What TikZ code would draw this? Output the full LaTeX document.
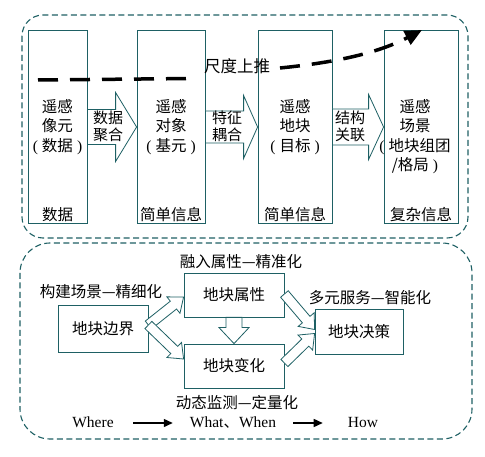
\documentclass[tikz,border=0pt]{standalone}
\usepackage{fontspec}
\setmainfont{Liberation Serif}
\newfontfamily\cjk{Noto Sans CJK SC}
\usetikzlibrary{calc,positioning,arrows.meta}
\definecolor{edge}{RGB}{30,96,100}
\newcommand{\lpar}{{\rmfamily(}\hspace{4pt}}
\newcommand{\rpar}{\hspace{4pt}{\rmfamily)}}
\newcommand{\blkarrow}[5]{%
  \coordinate (ba-h) at ($(#2)!#5!(#1)$);
  \draw[blockarrow] ($(#1)!#3!90:(#2)$) -- ($(ba-h)!#3!90:(#2)$) -- ($(ba-h)!#4!90:(#2)$) -- (#2)
    -- ($(ba-h)!#4!-90:(#2)$) -- ($(ba-h)!#3!-90:(#2)$) -- ($(#1)!#3!-90:(#2)$) -- cycle;}
\tikzset{
  panel/.style={draw=edge, dash pattern=on 6pt off 3.5pt, line width=1.1pt},
  column/.style={draw=edge, line width=0.8pt, minimum height=193pt, inner sep=0pt},
  blockarrow/.style={draw=edge, fill=white, line width=0.8pt, line join=miter},
  cbox/.style={draw=edge, line width=0.8pt, inner sep=0pt, font=\cjk\fontsize{15.5}{19}\selectfont},
  txt/.style={font=\cjk\fontsize{15.5}{19.5}\selectfont, align=center, inner sep=1pt},
  arrowtxt/.style={font=\cjk\fontsize{15}{17}\selectfont, align=center, inner sep=1pt},
  word/.style={font=\fontsize{15.5}{18}\selectfont, inner sep=1pt, text height=11pt, text depth=3pt},
  scalearrow/.style={line width=3.5pt, dash pattern=on 20pt off 12pt, -{Triangle[length=17pt,width=15pt]}},
  flow/.style={line width=1.4pt, -{Triangle[length=9pt,width=8pt]}}
}

\begin{document}
\begin{tikzpicture}[x=1pt, y=-1pt]
    \useasboundingbox (0,0) rectangle (485,457);

    \draw[panel, rounded corners=21pt] (22,15) rectangle (468,238);
    \draw[panel, rounded corners=30pt] (20,243) rectangle (472,439);

    \node[column, minimum width=59pt] (c1) at (57.5,127) {};
    \node[column, minimum width=68pt] (c2) at (171,127) {};
    \node[column, minimum width=74pt] (c3) at (295,127) {};
    \node[column, minimum width=74pt] (c4) at (421,127) {};

    \node[txt] (t1) at (c1) {遥感\\像元\\\lpar 数据\rpar};
    \node[txt] (t2) at (c2) {遥感\\对象\\\lpar 基元\rpar};
    \node[txt] (t3) at (c3) {遥感\\地块\\\lpar 目标\rpar};
    \node[txt] (t4) at (415,136.5) {遥感\\场景\\\lpar 地块组团\\/格局\rpar};

    \node[txt, above=1pt of c1.south] (b1) {数据};
    \node[txt, above=1pt of c2.south] (b2) {简单信息};
    \node[txt, above=1pt of c3.south] (b3) {简单信息};
    \node[txt, above=1pt of c4.south] (b4) {复杂信息};

    \blkarrow{c1.east}{c2.west}{17.5pt}{34.5pt}{21pt}
    \blkarrow{c2.east}{c3.west}{16pt}{31.5pt}{14pt}
    \blkarrow{c3.east}{c4.west}{18pt}{32.5pt}{15pt}
    \node[arrowtxt] (a1) at (108,126.5) {数据\\聚合};
    \node[arrowtxt] (a2) at (227,126.5) {特征\\耦合};
    \node[arrowtxt] (a3) at (350,126.5) {结构\\关联};

    \coordinate (s0) at (38,80);
    \coordinate (s1) at (193,78.5);
    \coordinate (s2) at (280,68);
    \coordinate (s3) at (422,30);
    \draw[scalearrow] (s0) -- (s1) (s2) .. controls (340,62) and (380,52) .. (s3);
    \node[txt, font=\cjk\fontsize{16.5}{19}\selectfont] (scale) at (237,66) {尺度上推};

    \node[cbox, minimum width=90pt, minimum height=47pt] (bound) at (103,328.5) {地块边界};
    \node[cbox, minimum width=100pt, minimum height=44pt] (attr) at (234,295) {地块属性};
    \node[cbox, minimum width=100pt, minimum height=44pt] (change) at (234,366) {地块变化};
    \node[cbox, minimum width=88pt, minimum height=45pt] (decide) at (359,331.5) {地块决策};

    \coordinate (p0) at ([yshift=3.5pt]bound.east);
    \coordinate (p1) at ([yshift=-2pt]attr.west);
    \coordinate (p2) at ([yshift=7pt]change.west);
    \coordinate (p3) at ([yshift=1pt]attr.east);
    \coordinate (p4) at ([yshift=3pt]change.east);
    \coordinate (p5) at ([yshift=2pt]decide.west);
    \coordinate (p6) at ([yshift=-2pt]decide.west);
    \blkarrow{p0}{p1}{5pt}{10.5pt}{13pt}
    \blkarrow{p0}{p2}{5pt}{10.5pt}{13pt}
    \blkarrow{attr.south}{change.north}{8pt}{15pt}{16pt}
    \blkarrow{p3}{p5}{5pt}{10.5pt}{13pt}
    \blkarrow{p4}{p6}{5pt}{10.5pt}{13pt}

    \node[txt] (l1) at (241,262) {融入属性—精准化};
    \node[txt] (l2) at (101,292) {构建场景—精细化};
    \node[txt] (l3) at (370,298) {多元服务—智能化};
    \node[txt] (l4) at (237,403) {动态监测—定量化};

    \node[word] (where) at (93,423) {Where};
    \node[word] (what) at (233,423) {What{\cjk 、}When};
    \node[word] (how) at (363,423) {How};
    \draw[flow, shorten <=18.5pt, shorten >=16pt] (where) -- (what);
    \draw[flow, shorten <=16pt, shorten >=24pt] (what) -- (how);
\end{tikzpicture}
\end{document}
